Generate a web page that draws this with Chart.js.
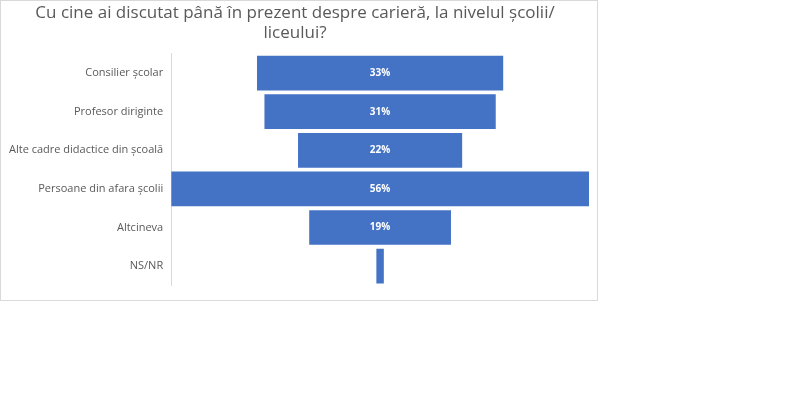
<!DOCTYPE html>
<html>
<head>
<meta charset="utf-8">
<script src="https://cdn.jsdelivr.net/npm/chart.js@4/dist/chart.umd.min.js"></script>
<style>
  body { margin: 0; background: #fff; }
  #box { position: absolute; left: 0; top: 0; width: 596px; height: 299px; border: 1px solid #d9d9d9; }
</style>
</head>
<body>
<div id="box"><canvas id="c" width="596" height="299"></canvas></div>
<script>
// Categorii si valori (%)
const categories = ['Consilier școlar', 'Profesor diriginte', 'Alte cadre didactice din școală', 'Persoane din afara școlii', 'Altcineva', 'NS/NR'];
const values = [33, 31, 22, 56, 19, 1];
const valueLabels = ['33%', '31%', '22%', '56%', '19%', ''];

// Funnel: fiecare bara centrata in jurul lui 0
const floating = values.map(v => [-v / 2, v / 2]);

const barLabels = {
    id: 'barLabels',
    afterDatasetsDraw(chart) {
        const ctx = chart.ctx;
        const meta = chart.getDatasetMeta(0);
        ctx.save();
        ctx.fillStyle = '#ffffff';
        ctx.font = 'bold 10px "Open Sans", sans-serif';
        ctx.textAlign = 'center';
        ctx.textBaseline = 'middle';
        meta.data.forEach((bar, i) => {
            if (valueLabels[i]) ctx.fillText(valueLabels[i], chart.scales.x.getPixelForValue(0), bar.y);
        });
        ctx.restore();
    }
};

new Chart(document.getElementById('c'), {
    type: 'bar',
    data: {
        labels: categories,
        datasets: [{
            data: floating,
            backgroundColor: '#4472c4',
            barPercentage: 0.9,
            categoryPercentage: 1.0
        }]
    },
    options: {
        indexAxis: 'y',
        responsive: false,
        animation: false,
        plugins: {
            legend: { display: false },
            tooltip: { enabled: false },
            title: {
                display: true,
                text: ['Cu cine ai discutat până în prezent despre carieră, la nivelul școlii/', 'liceului?'],
                color: '#595959',
                font: { size: 17, family: '"Open Sans", sans-serif', weight: 'normal' },
                padding: { top: 2, bottom: 10 }
            }
        },
        scales: {
            x: {
                min: -28, max: 28,
                display: false
            },
            y: {
                grid: { display: false, drawTicks: false },
                border: { display: true, color: '#d9d9d9' },
                ticks: {
                    color: '#595959',
                    font: { size: 11, family: '"Open Sans", sans-serif' },
                    padding: 8
                }
            }
        },
        layout: { padding: { left: 0, right: 8, top: 0, bottom: 6 } }
    },
    plugins: [barLabels]
});
</script>
</body>
</html>
